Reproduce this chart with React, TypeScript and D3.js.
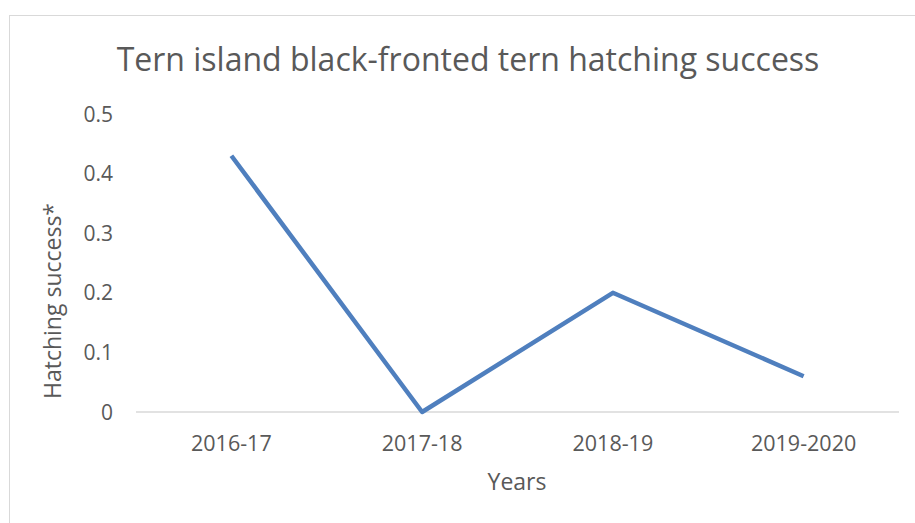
import React from "react";
import * as d3 from "d3";

const categories = ["2016-17", "2017-18", "2018-19", "2019-2020"];
const values = [0.43, 0, 0.2, 0.06];
const yTicks = [0, 0.1, 0.2, 0.3, 0.4, 0.5];
const title = "Tern island black-fronted tern hatching success";
const xTitle = "Years";
const yTitle = "Hatching success*";

const W = 915;
const H = 523;
const font = "'Open Sans', 'Liberation Sans', sans-serif";

export default function App() {
  const x = d3.scaleBand().domain(categories).range([136, 899]);
  const y = d3.scaleLinear().domain([0, 0.5]).range([412, 114]);
  const line = d3
    .line<number>()
    .x((_, i) => (x(categories[i]) as number) + x.bandwidth() / 2)
    .y((d) => y(d));

  return (
    <svg
      width={W}
      height={H}
      style={{ position: "absolute", left: 0, top: 0, display: "block", background: "#fff" }}
    >
      <rect x={9.5} y={15.5} width={W} height={H} fill="#fff" stroke="#d9d9d9" strokeWidth={1} />
      <text x={468} y={71} textAnchor="middle" fontFamily={font} fontSize={32} fill="#595959">
        {title}
      </text>
      <line x1={x.range()[0]} x2={x.range()[1]} y1={y(0)} y2={y(0)} stroke="#d9d9d9" strokeWidth={1.3} />
      {yTicks.map((t) => (
        <text key={t} x={113} y={y(t)} dy="0.36em" textAnchor="end" fontFamily={font} fontSize={21} fill="#595959">
          {t === 0 ? "0" : d3.format(".1f")(t)}
        </text>
      ))}
      {categories.map((c) => (
        <text
          key={c}
          x={(x(c) as number) + x.bandwidth() / 2}
          y={443}
          dy="0.36em"
          textAnchor="middle"
          fontFamily={font}
          fontSize={21.5}
          fill="#595959"
        >
          {c}
        </text>
      ))}
      <text x={517} y={482} dy="0.36em" textAnchor="middle" fontFamily={font} fontSize={23} fill="#595959">
        {xTitle}
      </text>
      <text
        transform={`translate(53,301) rotate(-90)`}
        dy="0.36em"
        textAnchor="middle"
        fontFamily={font}
        fontSize={23}
        fill="#595959"
      >
        {yTitle}
      </text>
      <path d={line(values) || ""} fill="none" stroke="#4f7fbe" strokeWidth={4.5} strokeLinejoin="round" />
    </svg>
  );
}
